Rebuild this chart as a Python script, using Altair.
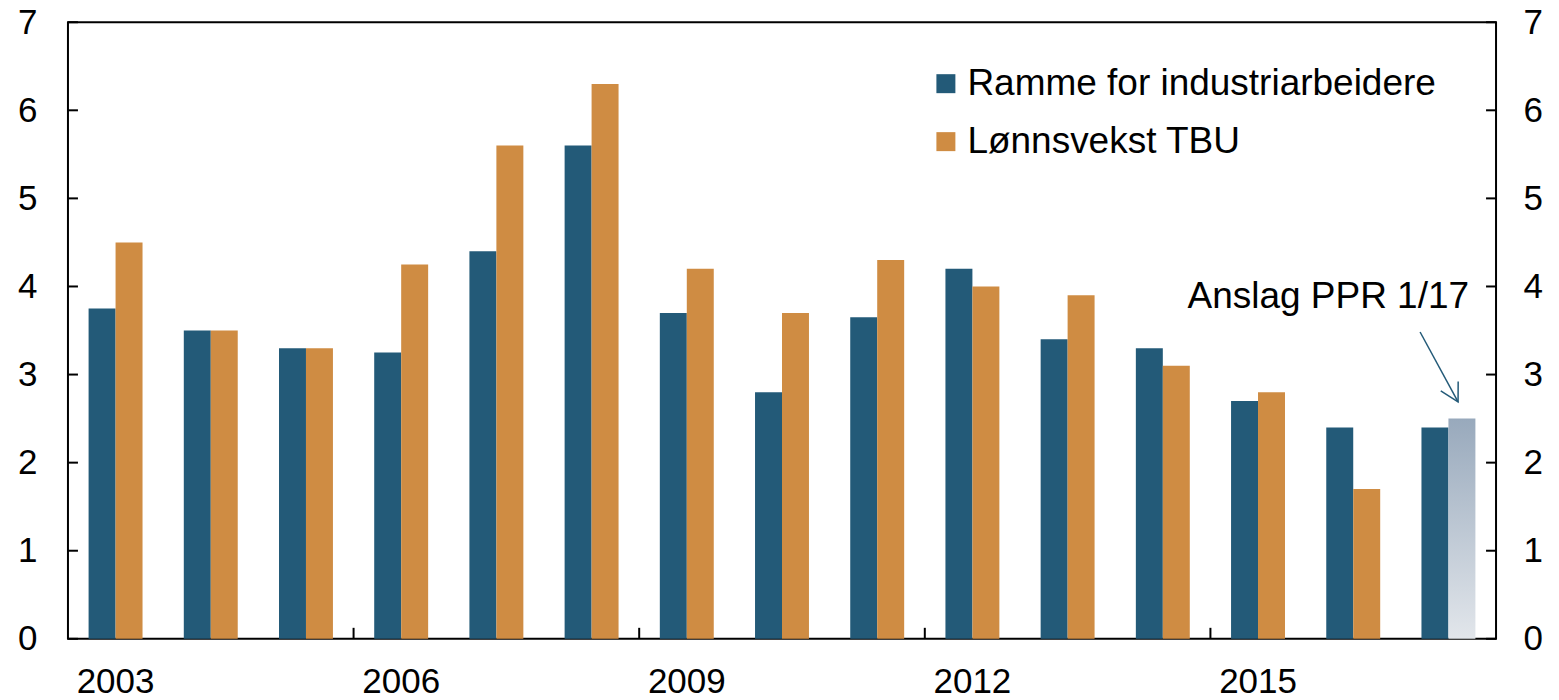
import altair as alt
import pandas as pd

# ---- data ----
years = list(range(2003, 2018))
ramme = [3.75, 3.5, 3.3, 3.25, 4.4, 5.6, 3.7, 2.8, 3.65, 4.2, 3.4, 3.3, 2.7, 2.4, 2.4]
tbu_years = list(range(2003, 2017))
tbu = [4.5, 3.5, 3.3, 4.25, 5.6, 6.3, 4.2, 3.7, 4.3, 4.0, 3.9, 3.1, 2.8, 1.7]
forecast_years = [2017]
forecast_values = [2.5]
x_label_years = [2003, 2006, 2009, 2012, 2015]
x_tick_years = [2006, 2009, 2012, 2015]
y_ticks = [0, 1, 2, 3, 4, 5, 6, 7]
S1 = "Ramme for industriarbeidere"
S2 = "Lønnsvekst TBU"
ANNOT = "Anslag PPR 1/17"

BLUE = "#235A78"
ORANGE = "#CF8C43"
FONT = "Liberation Sans"
FS = 35
FS_TXT = 37
W, H = 1429, 617

bars_df = pd.DataFrame({
    "year": years + tbu_years,
    "series": [S1] * len(years) + [S2] * len(tbu_years),
    "value": ramme + tbu,
})
fc_df = pd.DataFrame({"year": forecast_years, "series": [S2] * len(forecast_years),
                      "value": forecast_values})
xt_df = pd.DataFrame({"year": x_tick_years})
yt_df = pd.DataFrame({"v": y_ticks})

label_test = " || ".join(f"datum.value == {y}" for y in x_label_years)

x_scale = alt.Scale(paddingInner=0, paddingOuter=0)
xo_scale = alt.Scale(domain=[S1, S2], paddingInner=0, paddingOuter=0.765)
y_scale = alt.Scale(domain=[0, 7], nice=False, zero=True)


def x_axis():
    return alt.Axis(
        orient="bottom", title=None, labelAngle=0, labelFontSize=FS, labelFont=FONT,
        labelColor="black", ticks=False, domain=False, grid=False, labelPadding=26,
        labelExpr=f"({label_test}) ? datum.label : ''")


def y_axis(orient, pad):
    return alt.Axis(
        orient=orient, values=y_ticks, title=None, ticks=False, domain=False, grid=False,
        labelFontSize=FS, labelFont=FONT, labelColor="black", labelPadding=pad)


bars = alt.Chart(bars_df).mark_bar().encode(
    x=alt.X("year:O", scale=x_scale, axis=x_axis()),
    xOffset=alt.XOffset("series:N", scale=xo_scale),
    y=alt.Y("value:Q", scale=y_scale, axis=y_axis("left", 31)),
    color=alt.Color("series:N", scale=alt.Scale(domain=[S1, S2], range=[BLUE, ORANGE]),
                    legend=alt.Legend(orient="none", legendX=860, legendY=43, title=None,
                                      symbolType="square", symbolSize=361, symbolStrokeWidth=0,
                                      labelFontSize=FS_TXT, labelFont=FONT, labelColor="black",
                                      rowPadding=20, labelOffset=3, padding=0, labelLimit=0)),
)

fc_bar = alt.Chart(fc_df).mark_bar(fill=alt.Gradient(
    gradient="linear",
    stops=[alt.GradientStop(color="#98A9BC", offset=0),
           alt.GradientStop(color="#E2E6EB", offset=1)],
    x1=0, x2=0, y1=0, y2=1)).encode(
    x=alt.X("year:O", scale=x_scale, axis=x_axis()),
    xOffset=alt.XOffset("series:N", scale=xo_scale),
    y=alt.Y("value:Q", scale=y_scale, axis=None),
)

xticks = alt.Chart(xt_df).mark_rule(color="black", strokeWidth=2).encode(
    x=alt.X("year:O", scale=x_scale, axis=x_axis(), bandPosition=0),
    y=alt.value(H),
    y2=alt.value(H - 11),
)

yticks_left = alt.Chart(yt_df).mark_rule(color="black", strokeWidth=2).encode(
    y=alt.Y("v:Q", scale=y_scale, axis=None),
    x=alt.value(0),
    x2=alt.value(10),
)

yticks_right = alt.Chart(yt_df).mark_rule(color="black", strokeWidth=2).encode(
    y=alt.Y("v:Q", scale=y_scale, axis=y_axis("right", 27)),
    x=alt.value(W - 10),
    x2=alt.value(W),
)

ann_df = pd.DataFrame({"label": [ANNOT]})
arrow = alt.Chart(ann_df).mark_rule(color=BLUE, strokeWidth=1.5).encode(
    x=alt.value(1353), x2=alt.value(1391), y=alt.value(310), y2=alt.value(380))
arrow_head = alt.Chart(ann_df).mark_point(
    shape="M -0.55 -1 L 0 0 L 0.55 -1", filled=False, stroke=BLUE, strokeWidth=1.5,
    size=1300, angle=331.5, opacity=1).encode(x=alt.value(1391), y=alt.value(380))
ann_text = alt.Chart(ann_df).mark_text(
    align="right", baseline="middle", fontSize=FS_TXT, font=FONT, color="black").encode(
    text="label:N", x=alt.value(1402), y=alt.value(275))

chart = alt.layer(
    bars, fc_bar, xticks, yticks_left, yticks_right, arrow, arrow_head, ann_text
).resolve_scale(y="shared", x="shared").resolve_axis(y="independent").properties(
    width=W, height=H,
    padding={"left": 60, "top": 14, "right": 55, "bottom": 62},
    autosize=alt.AutoSizeParams(type="none"),
).configure_view(stroke="black", strokeWidth=2)

chart.save("out.html", embed_options={"renderer": "svg", "actions": False})
